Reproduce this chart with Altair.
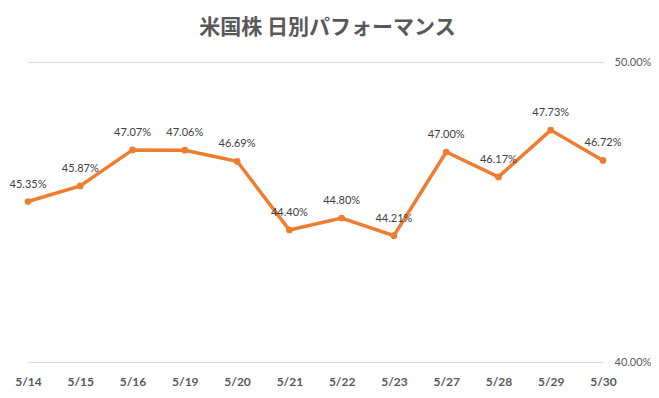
import altair as alt
import pandas as pd

dates = ["5/14", "5/15", "5/16", "5/19", "5/20", "5/21", "5/22", "5/23", "5/27", "5/28", "5/29", "5/30"]
values = [0.4535, 0.4587, 0.4707, 0.4706, 0.4669, 0.4440, 0.4480, 0.4421, 0.4700, 0.4617, 0.4773, 0.4672]
y_ticks = [0.40, 0.50]

df = pd.DataFrame({"date": dates, "value": values})

x = alt.X("date:N", sort=dates, scale=alt.Scale(type="point", padding=0),
          axis=alt.Axis(title=None, labelAngle=0, domain=False, ticks=False, grid=False,
                        labelFont="Lato", labelFontSize=12, labelFontWeight="bold",
                        labelColor="#595959", labelPadding=14))
y = alt.Y("value:Q", scale=alt.Scale(domain=[0.40, 0.50], nice=False, zero=False),
          axis=alt.Axis(title=None, orient="right", values=y_ticks, format=".2%",
                        domain=False, ticks=False, grid=True, gridColor="#d9d9d9",
                        labelFont="Lato", labelFontSize=11, labelColor="#595959",
                        labelPadding=11, labelBaseline="middle"))

base = alt.Chart(df).encode(x=x, y=y)

line = base.mark_line(color="#ED7D31", strokeWidth=3.5)
pts = base.mark_point(filled=True, color="#ED7D31", size=45, opacity=1)
labels = base.mark_text(dy=-14, baseline="alphabetic", font="Lato", fontSize=11,
                        color="#404040").encode(text=alt.Text("value:Q", format=".2%"))

chart = (line + pts + labels).properties(
    width=575, height=300,
    background="white",
    title=alt.TitleParams("米国株 日別パフォーマンス", font="Noto Sans CJK JP", fontSize=21,
                          fontWeight="bold", color="#595959", anchor="middle",
                          frame="group", offset=7, dx=12, baseline="middle"),
    autosize=alt.AutoSizeParams(type="none"),
    padding={"left": 20, "top": 54, "right": 48, "bottom": 28},
).configure_view(strokeWidth=0, stroke=None)

chart.save("out.html", embed_options={"renderer": "svg", "actions": False})
